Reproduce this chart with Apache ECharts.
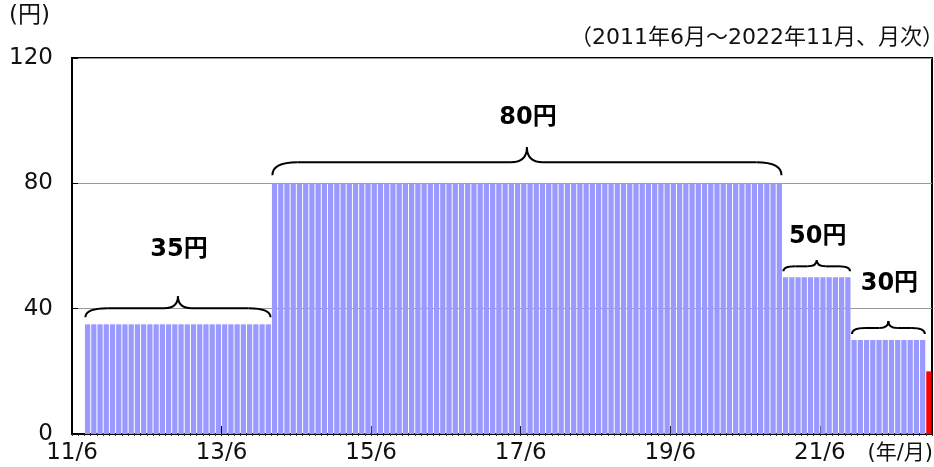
<!DOCTYPE html>
<html>
<head>
<meta charset="utf-8">
<script src="https://cdn.jsdelivr.net/npm/echarts@6/dist/echarts.min.js"></script>
<style>
  html, body { margin: 0; padding: 0; background: #fff; }
  #chart { width: 934px; height: 467px; }
</style>
</head>
<body>
<div id="chart"></div>
<script>
// 2011/6 .. 2022/11, monthly (138 months)
const startYear = 2011
const startMonth = 6
const monthCount = 138

// one row per year, June .. May
const values = [
  null, null, 35, 35, 35, 35, 35, 35, 35, 35, 35, 35,
  35, 35, 35, 35, 35, 35, 35, 35, 35, 35, 35, 35,
  35, 35, 35, 35, 35, 35, 35, 35, 80, 80, 80, 80,
  80, 80, 80, 80, 80, 80, 80, 80, 80, 80, 80, 80,
  80, 80, 80, 80, 80, 80, 80, 80, 80, 80, 80, 80,
  80, 80, 80, 80, 80, 80, 80, 80, 80, 80, 80, 80,
  80, 80, 80, 80, 80, 80, 80, 80, 80, 80, 80, 80,
  80, 80, 80, 80, 80, 80, 80, 80, 80, 80, 80, 80,
  80, 80, 80, 80, 80, 80, 80, 80, 80, 80, 80, 80,
  80, 80, 80, 80, 80, 80, 50, 50, 50, 50, 50, 50,
  50, 50, 50, 50, 50, 30, 30, 30, 30, 30, 30, 30,
  30, 30, 30, 30, 30, 20
]
const highlightIndex = 137

const xTickLabels = ['11/6', '13/6', '15/6', '17/6', '19/6', '21/6']
const xTickStep = 24

// price periods (index of first and last month)
const groupStart = [2, 32, 114, 125]
const groupEnd = [31, 113, 124, 136]
const groupValue = [35, 80, 50, 30]
const groupLabel = ['35円', '80円', '50円', '30円']

const categories = []
for (let i = 0; i < monthCount; i++) {
  const m = startMonth - 1 + i
  categories.push(String((startYear + Math.floor(m / 12)) % 100) + '/' + (m % 12 + 1))
}

// brace look per period: gap above bars, end drop, middle rise, curl lengths, label distance
const braceStyle = [
  { gap: 7, drop: 9, rise: 12, c: 22, c2: 14, label: 47 },
  { gap: 8, drop: 13, rise: 15, c: 25, c2: 16, label: 30 },
  { gap: 6, drop: 5, rise: 6, c: 12, c2: 9, label: 24 },
  { gap: 6, drop: 6, rise: 7, c: 13, c2: 9, label: 37 }
]

const font = '"DejaVu Sans", "Noto Sans CJK JP", sans-serif'

function renderBrace (params, api) {
  const i = api.value(3)
  const st = braceStyle[i]
  const a = api.coord([api.value(0) + 0.15, api.value(2)])
  const b = api.coord([api.value(1) - 0.15, api.value(2)])
  const x0 = a[0]
  const x1 = b[0]
  const xm = (x0 + x1) / 2
  const y0 = a[1] - st.gap
  const yh = y0 - st.drop
  const yp = yh - st.rise
  const lineStyle = { stroke: '#000', lineWidth: 2, fill: null }
  return {
    type: 'group',
    children: [
      { type: 'bezierCurve', shape: { x1: x0, y1: y0, cpx1: x0, cpy1: yh, x2: x0 + st.c, y2: yh }, style: lineStyle },
      { type: 'line', shape: { x1: x0 + st.c, y1: yh, x2: xm - st.c2, y2: yh }, style: lineStyle },
      { type: 'bezierCurve', shape: { x1: xm - st.c2, y1: yh, cpx1: xm, cpy1: yh, x2: xm, y2: yp }, style: lineStyle },
      { type: 'bezierCurve', shape: { x1: xm, y1: yp, cpx1: xm, cpy1: yh, x2: xm + st.c2, y2: yh }, style: lineStyle },
      { type: 'line', shape: { x1: xm + st.c2, y1: yh, x2: x1 - st.c, y2: yh }, style: lineStyle },
      { type: 'bezierCurve', shape: { x1: x1 - st.c, y1: yh, cpx1: x1, cpy1: yh, x2: x1, y2: y0 }, style: lineStyle },
      {
        type: 'text',
        style: {
          x: xm + 1,
          y: yp - st.label,
          text: groupLabel[i],
          align: 'center',
          verticalAlign: 'middle',
          fill: '#000',
          font: 'bold 24px ' + font
        }
      }
    ]
  }
}

const chart = echarts.init(document.getElementById('chart'))

chart.setOption({
  animation: false,
  textStyle: { fontFamily: font },
  grid: {
    left: 72,
    right: 2,
    top: 58,
    bottom: 33,
    show: true,
    borderColor: '#000',
    borderWidth: 2,
    backgroundColor: 'transparent'
  },
  graphic: [
    { type: 'text', left: 9, top: 5, style: { text: '(円)', font: '23px ' + font, fill: '#111' } },
    { type: 'text', right: -10, top: 27, style: { text: '（2011年6月～2022年11月、月次）', font: '22px ' + font, fill: '#111' } },
    { type: 'text', right: 1, top: 443, style: { text: '(年/月)', font: '21px ' + font, fill: '#111' } }
  ],
  xAxis: [
    {
      type: 'category',
      data: categories,
      boundaryGap: true,
      axisLine: { show: false },
      axisTick: { show: true, interval: 0, length: 2, lineStyle: { color: '#333' } },
      axisLabel: { show: false },
      splitLine: { show: false }
    },
    {
      type: 'value',
      min: 0,
      max: monthCount,
      interval: xTickStep,
      position: 'bottom',
      axisLine: { show: true, lineStyle: { color: '#000', width: 2 } },
      axisTick: { show: true, inside: true, length: 8, lineStyle: { color: '#000', width: 1 } },
      axisLabel: {
        fontSize: 23,
        color: '#111',
        margin: 8,
        showMaxLabel: false,
        formatter: v => xTickLabels[v / xTickStep] || ''
      },
      splitLine: { show: false }
    }
  ],
  yAxis: {
    type: 'value',
    min: 0,
    max: 120,
    interval: 40,
    axisLine: { show: true, lineStyle: { color: '#000', width: 2 } },
    axisTick: { show: true, inside: true, length: 6, lineStyle: { color: '#000' } },
    axisLabel: { fontSize: 23, color: '#111', margin: 19 },
    splitLine: { show: true, lineStyle: { color: '#999', width: 1 } }
  },
  series: [
    {
      type: 'bar',
      xAxisIndex: 0,
      barCategoryGap: '16%',
      itemStyle: { color: '#9999ff' },
      data: values.map((v, i) => i === highlightIndex ? { value: v, itemStyle: { color: '#ff0000' } } : v),
      z: 2
    },
    {
      type: 'custom',
      xAxisIndex: 1,
      yAxisIndex: 0,
      renderItem: renderBrace,
      data: groupStart.map((s, i) => [s, groupEnd[i] + 1, groupValue[i], i]),
      clip: false,
      z: 3
    }
  ]
})
</script>
</body>
</html>
